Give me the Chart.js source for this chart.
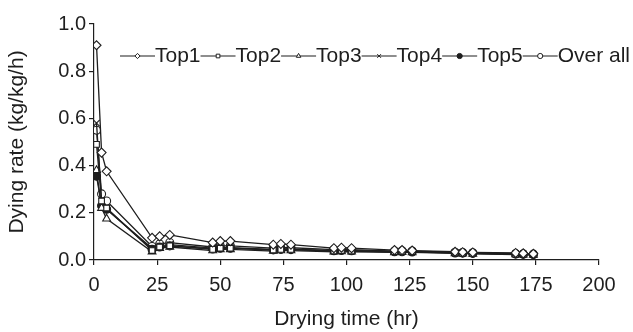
<!DOCTYPE html>
<html><head><meta charset="utf-8">
<script src="https://cdn.jsdelivr.net/npm/chart.js@4/dist/chart.umd.min.js"></script>
<style>html,body{margin:0;padding:0;background:#fff;}#wrap{width:633px;height:332px;}</style>
</head><body><div id="wrap"><canvas id="c" width="633" height="332"></canvas></div>
<script>
const times = [1, 3, 5, 23, 26, 30, 47, 50, 54, 71, 74, 78, 95, 98, 102, 119, 122, 126, 143, 146, 150, 167, 170, 174];
const seriesNames = ['Top1', 'Top2', 'Top3', 'Top4', 'Top5', 'Over all'];
const top1 = [0.91, 0.455, 0.376, 0.094, 0.100, 0.106, 0.074, 0.080, 0.080, 0.065, 0.068, 0.065, 0.050, 0.052, 0.050, 0.042, 0.042, 0.040, 0.035, 0.033, 0.032, 0.030, 0.028, 0.026];
const top2 = [0.49, 0.25, 0.22, 0.040, 0.055, 0.060, 0.045, 0.050, 0.050, 0.042, 0.045, 0.045, 0.038, 0.040, 0.038, 0.035, 0.036, 0.035, 0.030, 0.029, 0.028, 0.025, 0.025, 0.023];
const top3 = [0.38, 0.22, 0.175, 0.035, 0.050, 0.055, 0.040, 0.045, 0.045, 0.038, 0.040, 0.040, 0.035, 0.036, 0.035, 0.032, 0.033, 0.032, 0.028, 0.027, 0.026, 0.023, 0.022, 0.021];
const top4 = [0.58, 0.25, 0.215, 0.050, 0.060, 0.065, 0.050, 0.052, 0.052, 0.045, 0.047, 0.046, 0.040, 0.041, 0.040, 0.036, 0.037, 0.036, 0.031, 0.030, 0.029, 0.026, 0.025, 0.024];
const top5 = [0.355, 0.23, 0.215, 0.045, 0.055, 0.060, 0.047, 0.050, 0.050, 0.043, 0.045, 0.044, 0.039, 0.040, 0.039, 0.035, 0.035, 0.034, 0.030, 0.029, 0.028, 0.025, 0.024, 0.023];
const overall = [0.55, 0.28, 0.25, 0.057, 0.068, 0.074, 0.055, 0.060, 0.060, 0.050, 0.052, 0.052, 0.044, 0.045, 0.044, 0.038, 0.039, 0.038, 0.033, 0.032, 0.031, 0.027, 0.026, 0.025];
const xTickValues = [0, 25, 50, 75, 100, 125, 150, 175, 200];
const yTickValues = [0.0, 0.2, 0.4, 0.6, 0.8, 1.0];

const INK = '#1e1e1e';
const FONT = 'Liberation Sans, Arial, sans-serif';
const styles = [
  {pointStyle: 'rectRot', fill: '#fff', r: 4.5},
  {pointStyle: 'rect', fill: '#fff', r: 4},
  {pointStyle: 'triangle', fill: '#fff', r: 4.5},
  {pointStyle: 'crossRot', fill: '#fff', r: 4.5},
  {pointStyle: 'circle', fill: INK, r: 4},
  {pointStyle: 'circle', fill: '#fff', r: 4}
];
const allValues = [top1, top2, top3, top4, top5, overall];

const datasets = allValues.map((vals, i) => ({
  label: seriesNames[i],
  data: times.map((t, j) => ({x: t, y: vals[j]})),
  borderColor: INK,
  borderWidth: 1.3,
  pointStyle: styles[i].pointStyle,
  pointRadius: styles[i].r,
  pointBackgroundColor: styles[i].fill,
  pointBorderColor: INK,
  pointBorderWidth: 1.1,
  tension: 0,
  fill: false
}));

const legendPlugin = {
  id: 'inlineLegend',
  afterDraw(chart) {
    const ctx = chart.ctx;
    ctx.save();
    ctx.font = '21px ' + FONT;
    ctx.textBaseline = 'middle';
    let x = 120;
    const y = 56;
    const symW = 35;
    chart.data.datasets.forEach((ds) => {
      ctx.strokeStyle = INK;
      ctx.lineWidth = 1.2;
      ctx.beginPath();
      ctx.moveTo(x, y); ctx.lineTo(x + symW, y);
      ctx.stroke();
      ctx.fillStyle = ds.pointBackgroundColor;
      ctx.strokeStyle = INK;
      ctx.lineWidth = 1;
      Chart.helpers.drawPoint(ctx, {pointStyle: ds.pointStyle, radius: 2.6, borderWidth: 1, rotation: 0}, x + symW / 2, y);
      ctx.fillStyle = INK;
      ctx.fillText(ds.label, x + symW, y);
      x += symW + ctx.measureText(ds.label).width;
    });
    ctx.restore();
  }
};

new Chart(document.getElementById('c'), {
  type: 'line',
  data: {datasets},
  plugins: [legendPlugin],
  options: {
    responsive: false,
    animation: false,
    devicePixelRatio: 1,
    layout: {padding: {top: 24, right: 34, left: 0, bottom: 0}},
    plugins: {legend: {display: false}, tooltip: {enabled: false}},
    scales: {
      x: {
        type: 'linear', min: 0, max: 200,
        afterBuildTicks: s => { s.ticks = xTickValues.map(v => ({value: v})); },
        afterFit: s => { s.height = 72; },
        grid: {display: true, drawOnChartArea: false, drawTicks: true, tickLength: 5, color: INK, lineWidth: 1.2},
        border: {display: true, color: INK, width: 1.2},
        ticks: {color: INK, font: {family: FONT, size: 20}, padding: 8, maxRotation: 0},
        title: {display: true, text: 'Drying time (hr)', color: INK, font: {family: FONT, size: 21}, padding: {top: 1, bottom: 0}}
      },
      y: {
        type: 'linear', min: 0, max: 1,
        afterBuildTicks: s => { s.ticks = yTickValues.map(v => ({value: v})); },
        afterFit: s => { s.width = 94; },
        grid: {display: true, drawOnChartArea: false, drawTicks: true, tickLength: 5, color: INK, lineWidth: 1.2},
        border: {display: true, color: INK, width: 1.2},
        ticks: {color: INK, font: {family: FONT, size: 20}, padding: 3, callback: v => Number(v).toFixed(1)},
        title: {display: true, text: 'Dying rate (kg/kg/h)', color: INK, font: {family: FONT, size: 21}, padding: {top: 5, bottom: 0}}
      }
    }
  }
});
</script></body></html>
